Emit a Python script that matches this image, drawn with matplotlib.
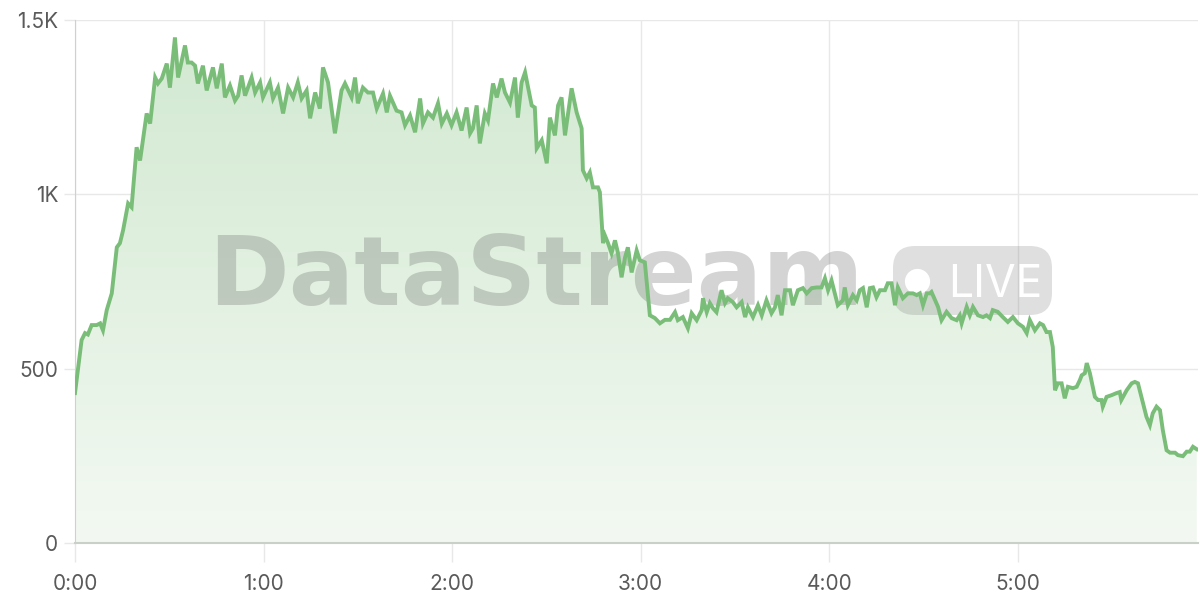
import matplotlib
matplotlib.use('Agg')
import matplotlib.pyplot as plt
import numpy as np
from matplotlib.patches import FancyBboxPatch, PathPatch
from matplotlib.path import Path
from matplotlib.transforms import IdentityTransform
from matplotlib.ticker import FuncFormatter

# Elapsed time (seconds) and viewer count.
seconds = [0, 2.1, 3.2, 4.1, 5.3, 6.9, 8.0, 8.9, 10.1, 11.7, 13.3, 14.3, 15.3, 16.9, 18.0, 19.6, 20.7,
           22.8, 23.9, 25.5, 26.4, 27.6, 29.2, 30.2, 31.8, 32.8, 35.0, 35.9, 37.1, 38.2, 39.1, 40.7,
           41.9, 43.9, 45.1, 46.7, 47.7, 49.3, 50.9, 51.9, 53.0, 54.1, 56.2, 57.3, 58.9, 59.8, 62.0,
           63.0, 64.6, 66.2, 67.8, 69.4, 70.9, 72.1, 73.7, 74.8, 76.4, 77.9, 78.9, 80.5, 82.7, 84.8,
           85.9, 88.0, 89.1, 90.0, 91.6, 93.2, 94.8, 96.0, 98.0, 99.2, 100.2, 102.3, 103.9, 105.0,
           106.6, 108.2, 109.8, 110.7, 112.3, 113.9, 115.5, 116.7, 118.3, 119.8, 121.4, 123.0, 124.6,
           125.7, 126.6, 127.8, 128.8, 130.4, 131.4, 133.0, 134.2, 135.7, 136.8, 138.4, 140.0, 140.9,
           142.1, 143.2, 144.8, 145.3, 146.3, 146.9, 148.5, 150.1, 151.1, 152.7, 153.7, 154.8, 155.9,
           158.0, 159.6, 161.2, 161.6, 162.8, 163.8, 164.8, 166.4, 167.0, 168.0, 168.6, 169.6, 170.7,
           171.8, 172.7, 173.9, 175.0, 175.9, 177.1, 178.7, 179.7, 181.3, 182.9, 184.5, 186.1, 187.7,
           189.3, 190.9, 191.8, 193.4, 195.0, 196.2, 197.8, 199.4, 199.8, 201.0, 202.0, 203.0, 204.1,
           205.7, 206.8, 207.7, 209.3, 210.5, 212.1, 213.2, 214.1, 215.7, 217.3, 218.5, 220.0, 221.6,
           222.7, 223.6, 224.8, 225.9, 227.5, 228.4, 230.0, 231.6, 232.8, 234.4, 236.0, 237.5, 238.6,
           239.6, 240.7, 242.7, 244.3, 244.9, 245.9, 247.5, 248.7, 249.7, 250.7, 251.9, 252.9, 253.9,
           255.0, 256.1, 257.7, 258.6, 259.8, 260.9, 261.8, 263.4, 265.0, 266.6, 267.8, 268.8, 269.8,
           271.0, 272.0, 272.5, 274.6, 275.7, 277.3, 278.9, 280.5, 281.5, 282.1, 283.7, 284.7, 285.7,
           287.3, 288.9, 290.0, 291.1, 292.0, 293.6, 295.2, 296.8, 298.4, 300.0, 301.6, 302.8, 303.8,
           305.4, 307.0, 308.0, 309.1, 310.2, 311.1, 311.8, 312.7, 313.9, 314.9, 315.9, 317.5, 318.7,
           319.7, 320.3, 321.3, 321.9, 322.9, 324.5, 325.5, 326.6, 327.0, 328.2, 329.8, 331.4, 332.4,
           332.9, 334.6, 336.2, 337.2, 338.2, 339.8, 340.9, 342.0, 342.9, 344.1, 345.2, 346.1, 347.3,
           348.4, 350.0, 350.9, 352.5, 353.7, 354.7, 355.7, 356.9]
viewers = [430, 582, 602, 598, 625, 625, 630, 610, 668, 716, 848, 860, 897, 974, 963, 1135, 1097,
           1232, 1203, 1335, 1318, 1332, 1375, 1306, 1450, 1335, 1427, 1378, 1378, 1369, 1318, 1369,
           1298, 1364, 1304, 1375, 1278, 1312, 1269, 1283, 1341, 1283, 1335, 1292, 1321, 1278, 1321,
           1275, 1306, 1232, 1306, 1278, 1321, 1275, 1298, 1218, 1292, 1246, 1364, 1321, 1175, 1298,
           1318, 1278, 1335, 1261, 1306, 1292, 1292, 1246, 1289, 1235, 1283, 1240, 1235, 1198,
           1226, 1178, 1275, 1203, 1235, 1220, 1261, 1203, 1232, 1198, 1235, 1183, 1249,
           1175, 1189, 1255, 1146, 1232, 1212, 1318, 1278, 1332, 1292, 1263, 1335, 1220,
           1321, 1350, 1278, 1255, 1249, 1132, 1155, 1089, 1220, 1169, 1255, 1278, 1169,
           1304, 1235, 1189, 1069, 1046, 1063, 1020, 1020, 1006, 860, 882, 860, 831,
           868, 834, 762, 819, 848, 776, 839, 811, 805, 653, 645, 630, 640,
           640, 662, 639, 648, 616, 659, 639, 668, 702, 662, 688, 673, 662,
           725, 688, 702, 691, 676, 691, 648, 676, 648, 682, 653, 696, 659,
           676, 711, 653, 725, 725, 682, 725, 731, 716, 731, 733, 733, 759,
           725, 753, 682, 696, 733, 682, 711, 696, 725, 731, 676, 731, 733,
           705, 725, 725, 745, 745, 682, 733, 702, 716, 716, 711, 716, 682,
           716, 716, 720, 677, 639, 663, 645, 639, 653, 630, 677, 653, 677,
           653, 648, 653, 645, 668, 663, 648, 634, 648, 630, 620, 602, 639,
           610, 630, 625, 605, 605, 562, 438, 458, 458, 415, 448, 444, 448,
           467, 481, 487, 516, 487, 419, 410, 410, 391, 419, 424, 430, 433,
           410, 438, 458, 462, 458, 401, 362, 338, 372, 391, 381, 324, 266,
           259, 259, 252, 249, 262, 262, 276, 269]

x_ticks = [0, 60, 120, 180, 240, 300]
y_ticks = [0, 500, 1000, 1500]
y_tick_labels = ['0', '500', '1K', '1.5K']

LINE = '#79bd79'
GRID = '#e8e8e8'
TEXT = '#5a5a5a'

plt.rcParams['font.family'] = ['Inter', 'DejaVu Sans']

fig = plt.figure(figsize=(12, 6), dpi=100)
ax = fig.add_axes([75 / 1200, 1 - 543 / 600, 1123 / 1200, 523 / 600])
ax.set_xlim(0, 357.3)
ax.set_ylim(0, 1500)

# Gradient fill under the line, clipped to the area polygon.
verts = [(seconds[0], 0)] + list(zip(seconds, viewers)) + [(seconds[-1], 0)]
poly = PathPatch(Path(verts), facecolor='none', edgecolor='none')
ax.add_patch(poly)
grad = np.linspace(0, 1, 256).reshape(-1, 1)
cmap = matplotlib.colors.LinearSegmentedColormap.from_list(
    'g', [(0.0, '#f3f9f2'), (1.0, '#d2e9d1')])
img = ax.imshow(grad, cmap=cmap, aspect='auto', origin='lower',
                extent=[0, 357.3, 0, 1450], zorder=1)
img.set_clip_path(poly)

# Watermark between the fill and the line (pixel coordinates, origin bottom-left).
px = IdentityTransform()
ax.text(208, 600 - 305, 'DataStream', transform=px, fontsize=70, family='DejaVu Sans',
        fontweight='bold', color='#606060', alpha=0.27, ha='left', va='baseline', zorder=2)
pill = FancyBboxPatch((893, 600 - 315), 159, 69, boxstyle='round,pad=0,rounding_size=22',
                      transform=px, facecolor='#808080', edgecolor='none', alpha=0.25, zorder=2)
ax.add_artist(pill)
ax.scatter([917], [600 - 281], s=330, color='white', transform=px, zorder=2.5, linewidths=0)
ax.text(948, 600 - 297, 'LIVE', transform=px, fontsize=32,
        color='white', ha='left', va='baseline', zorder=2.5)

ax.plot(seconds, viewers, color=LINE, lw=2.8, zorder=3, solid_joinstyle='miter')

# Axes styling.
ax.set_xticks(x_ticks)
ax.xaxis.set_major_formatter(FuncFormatter(lambda v, p: '%d:%02d' % (v // 60, v % 60)))
ax.set_yticks(y_ticks)
ax.set_yticklabels(y_tick_labels)
ax.grid(True, color=GRID, lw=1, zorder=0)
ax.set_axisbelow(True)
ax.tick_params(axis='x', length=14, width=1, color=GRID, labelsize=15, labelcolor=TEXT, pad=8)
ax.tick_params(axis='y', length=8, width=1, color=GRID, labelsize=15, labelcolor=TEXT, pad=4)
for s in ['top', 'right']:
    ax.spines[s].set_visible(False)
ax.spines['left'].set_color('#d0d0d0')
ax.spines['bottom'].set_color('#c8d0c8')
ax.spines['bottom'].set_linewidth(1.5)

fig.savefig('out.png', dpi=100)
